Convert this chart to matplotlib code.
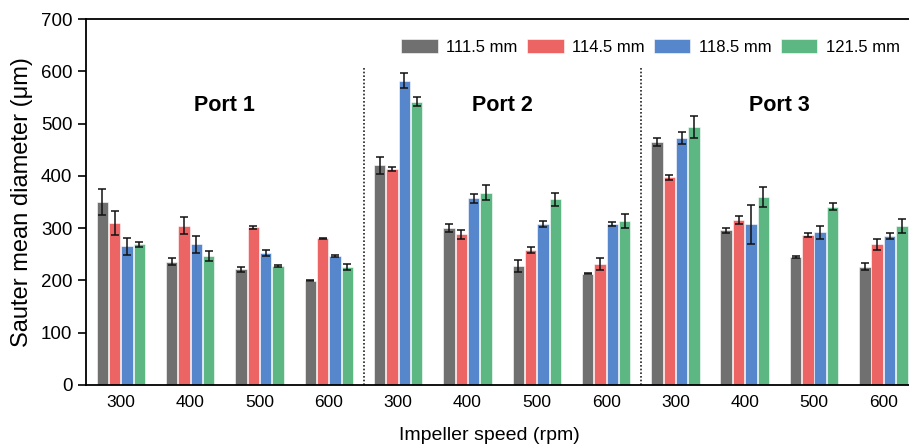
import numpy as np
import matplotlib.pyplot as plt

plt.rcParams['font.family'] = ['Liberation Sans', 'DejaVu Sans']

# Data
speeds = ['300', '400', '500', '600'] * 3
ports = ['Port 1', 'Port 2', 'Port 3']
series = ['111.5 mm', '114.5 mm', '118.5 mm', '121.5 mm']

d111 = [350, 236, 221, 199, 420, 300, 228, 213, 465, 296, 244, 226]
d114 = [310, 305, 302, 281, 413, 288, 258, 231, 397, 316, 287, 269]
d118 = [265, 269, 253, 247, 582, 357, 308, 308, 472, 307, 292, 285]
d121 = [269, 247, 227, 225, 542, 368, 355, 314, 494, 360, 341, 304]

e111 = [25, 6, 4, 1, 16, 7, 11, 1, 8, 5, 2, 7]
e114 = [23, 16, 3, 1, 4, 8, 5, 12, 5, 8, 4, 11]
e118 = [17, 16, 6, 2, 14, 8, 6, 4, 11, 38, 12, 6]
e121 = [5, 10, 2, 6, 8, 14, 13, 13, 21, 19, 7, 14]

colors = ['#707070', '#ec6464', '#5686cc', '#5db783']

values = [d111, d114, d118, d121]
errors = [e111, e114, e118, e121]

fig = plt.figure(figsize=(9.09, 4.44), dpi=100)
ax = fig.add_axes([0.0949, 0.1329, 0.915, 0.8243])

x = np.arange(len(speeds))
step = 0.178
for i, (vals, errs) in enumerate(zip(values, errors)):
    off = (i - 1.5) * step
    ax.bar(x + off, vals, width=0.165, color=colors[i], edgecolor='white',
           linewidth=0.4, label=series[i], zorder=2)
    ax.errorbar(x + off, vals, yerr=errs, fmt='none', ecolor='#111111',
                elinewidth=1.1, capsize=3, capthick=1.1, zorder=3)

# port separators
for xs in [3.5, 7.5]:
    ax.plot([xs, xs], [0, 610], color='#222222', lw=1.2, ls=(0, (1, 1.2)), zorder=1)

for k, p in enumerate(ports):
    ax.text(1.5 + 4 * k, 535, p, ha='center', va='center', fontsize=15.5,
            fontweight='bold')

ax.set_xlim(-0.5, 11.5)
ax.set_ylim(0, 700)
ax.set_yticks(np.arange(0, 701, 100))
ax.set_xticks(x)
ax.set_xticklabels(speeds)
ax.tick_params(axis='x', length=0, labelsize=12.5, pad=7)
ax.tick_params(axis='y', length=6, width=1.2, direction='out', pad=4,
               labelsize=13.5)
for s in ax.spines.values():
    s.set_linewidth(1.3)

ax.set_xlabel('Impeller speed (rpm)', fontsize=14)
ax.set_ylabel('Sauter mean diameter (\u03bcm)', fontsize=17)
ax.xaxis.set_label_coords(0.485, -0.115)
ax.yaxis.set_label_coords(-0.064, 0.5)

ax.legend(ncol=4, frameon=False, fontsize=12, loc='center right',
          bbox_to_anchor=(0.997, 0.895), bbox_transform=fig.transFigure,
          handlelength=2.2, handleheight=0.95, handletextpad=0.5,
          columnspacing=0.55, borderaxespad=0)

fig.savefig('out.png', dpi=100)
